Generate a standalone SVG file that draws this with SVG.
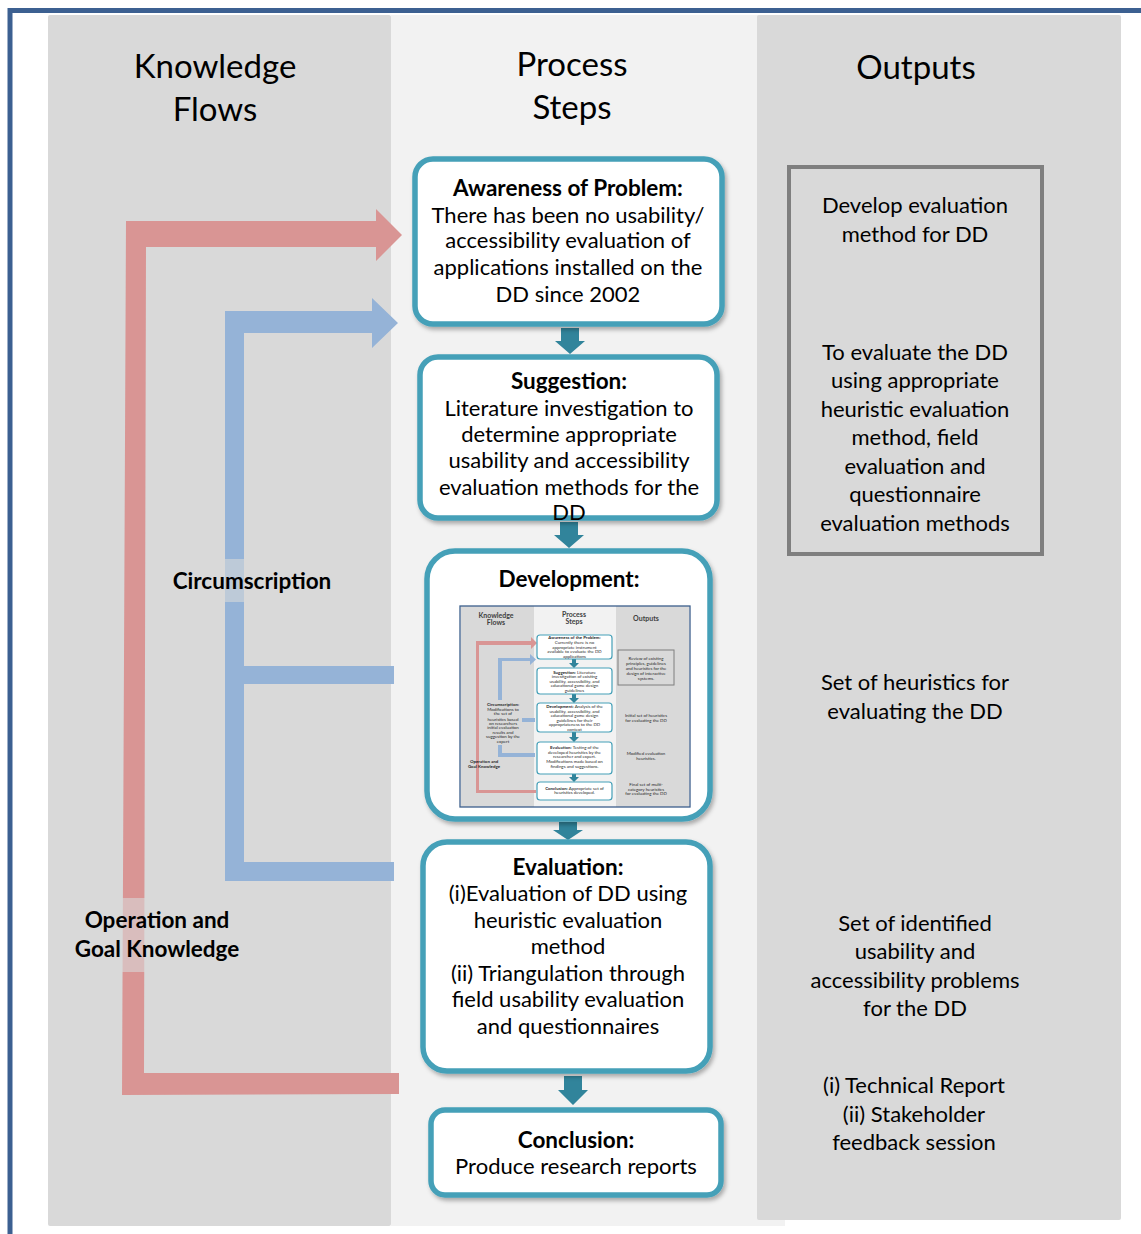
<svg xmlns="http://www.w3.org/2000/svg" width="1141" height="1234" viewBox="0 0 1141 1234">
<style>
.t{font-family:Lato,"Liberation Sans",sans-serif;fill:#000;text-anchor:middle}
.h{font-size:33px}
.b{font-size:22px}
.bb{font-size:22.5px;font-weight:bold}
.lab{font-size:22.5px;font-weight:bold}
.box{fill:#fff;stroke:#45a0b8;stroke-width:5.5}
.m{font-family:Lato,"Liberation Sans",sans-serif;fill:#262626;text-anchor:middle;font-size:4.4px}
.mb{font-weight:bold}
.mh{font-family:Lato,"Liberation Sans",sans-serif;fill:#404040;text-anchor:middle;font-size:7px;font-weight:bold}
.mbox{fill:#fff;stroke:#45a0b8;stroke-width:1.2}
.teal{fill:#31849b}
</style>
<defs>
<filter id="sh" x="-10%" y="-10%" width="125%" height="130%">
<feDropShadow dx="2" dy="3" stdDeviation="2.2" flood-color="#000" flood-opacity="0.3"/>
</filter>
</defs>
<rect width="1141" height="1234" fill="#fff"/>
<g id="columns">
<rect x="391" y="15" width="394" height="1211" fill="#f2f2f2"/>
<rect x="48" y="15" width="343" height="1211" rx="2" fill="#d9d9d9"/>
<rect x="757" y="15" width="364" height="1205" rx="2" fill="#d9d9d9"/>
</g>
<path d="M10,1234 V10.5 H1141" fill="none" stroke="#3c6091" stroke-width="5"/>
<g id="headers">
<text class="t h" x="215" y="78">Knowledge</text>
<text class="t h" x="215" y="121">Flows</text>
<text class="t h" x="572" y="76">Process</text>
<text class="t h" x="572" y="119">Steps</text>
<text class="t h" x="916" y="79">Outputs</text>
</g>
<g id="connectors">
<polygon id="operation-arrow" fill="#d99594" points="126,221 376,221 376,209 402,235 376,261 376,247 146,247 144,1073 399,1073 399,1094 122,1095"/>
<polygon id="circumscription-arrow" fill="#95b3d7" points="225,311 372,311 372,298 398,323 372,348 372,333 244,333 244,666 394,666 394,684 244,684 244,862 394,862 394,881 225,881"/>
<rect x="225" y="559" width="19" height="43" fill="#d9d9d9" opacity="0.6"/>
<rect x="122" y="898" width="23" height="74" fill="#d9d9d9" opacity="0.6"/>
<polygon class="teal" points="561,328 579,328 579,341 585,341 570,354 555,341 561,341"/>
<polygon class="teal" points="560,522 578,522 578,535 584,535 569,548 554,535 560,535"/>
<polygon class="teal" points="559,822 577,822 577,830 583,830 568,840 553,830 559,830"/>
<polygon class="teal" points="564,1076 582,1076 582,1090 588,1090 573,1105 558,1090 564,1090"/>
</g>
<g id="label-circumscription">
<text class="t lab" x="252" y="589">Circumscription</text>
</g>
<g id="label-operation">
<text class="t lab" x="157" y="928">Operation and</text>
<text class="t lab" x="157" y="957">Goal Knowledge</text>
</g>
<g id="awareness">
<rect class="box" x="415" y="159" width="307" height="165" rx="18" filter="url(#sh)"/>
<text class="t bb" x="568" y="196">Awareness of Problem:</text>
<text class="t b" x="568" y="223">There has been no usability/</text>
<text class="t b" x="568" y="248">accessibility evaluation of</text>
<text class="t b" x="568" y="275">applications installed on the</text>
<text class="t b" x="568" y="302">DD since 2002</text>
</g>
<g id="suggestion">
<rect class="box" x="420" y="357" width="297" height="161" rx="18" filter="url(#sh)"/>
<text class="t bb" x="569" y="389">Suggestion:</text>
<text class="t b" x="569" y="416">Literature investigation to</text>
<text class="t b" x="569" y="442">determine appropriate</text>
<text class="t b" x="569" y="468">usability and accessibility</text>
<text class="t b" x="569" y="495">evaluation methods for the</text>
<text class="t b" x="569" y="520">DD</text>
</g>
<g id="development">
<rect class="box" x="427" y="551" width="283" height="268" rx="28" filter="url(#sh)"/>
<text class="t bb" x="569" y="587">Development:</text>
<g id="mini">
<rect x="460" y="606" width="230" height="201" fill="#f2f2f2"/>
<rect x="461" y="606" width="73" height="201" fill="#d9d9d9"/>
<rect x="616" y="606" width="73" height="201" fill="#d9d9d9"/>
<rect x="460" y="606" width="230" height="201" fill="none" stroke="#3c5f8c" stroke-width="1.3"/>
<text class="mh" x="496" y="618">Knowledge</text>
<text class="mh" x="496" y="625">Flows</text>
<text class="mh" x="574" y="617">Process</text>
<text class="mh" x="574" y="624">Steps</text>
<text class="mh" x="646" y="621">Outputs</text>
<polygon fill="#d99594" points="476,641 531,641 531,637 537,643 531,649 531,645 479,645 479,790 536,790 536,793 476,793"/>
<polygon fill="#95b3d7" points="498,658 530,658 530,654 536,659.5 530,665 530,661 502,661 502,718 535,718 535,722 502,722 502,753 535,753 535,757 498,757"/>
<rect x="486" y="700" width="36" height="45" fill="#d9d9d9"/>
<polygon class="teal" points="572,659 576,659 576,663 579,663 574,668 569,663 572,663"/>
<polygon class="teal" points="572,694 576,694 576,698 579,698 574,703 569,698 572,698"/>
<polygon class="teal" points="572,732 576,732 576,737 579,737 574,742 569,737 572,737"/>
<polygon class="teal" points="572,774 576,774 576,777 579,777 574,782 569,777 572,777"/>
<rect class="mbox" x="537" y="635" width="75" height="24" rx="3"/>
<text class="m" x="574.5" y="639"><tspan class="mb">Awareness of the Problem:</tspan></text>
<text class="m" x="574.5" y="644">Currently there is no</text>
<text class="m" x="574.5" y="648.5">appropriate instrument</text>
<text class="m" x="574.5" y="653">available to evaluate the DD</text>
<text class="m" x="574.5" y="657.5">applications</text>
<rect class="mbox" x="537" y="668" width="75" height="26" rx="3"/>
<text class="m" x="574.5" y="673.5"><tspan class="mb">Suggestion:</tspan> Literature</text>
<text class="m" x="574.5" y="678">investigation of existing</text>
<text class="m" x="574.5" y="682.5">usability, accessibility, and</text>
<text class="m" x="574.5" y="687">educational game design</text>
<text class="m" x="574.5" y="691.5">guidelines</text>
<rect class="mbox" x="537" y="703" width="75" height="29" rx="3"/>
<text class="m" x="574.5" y="708"><tspan class="mb">Development:</tspan> Analysis of the</text>
<text class="m" x="574.5" y="712.5">usability, accessibility, and</text>
<text class="m" x="574.5" y="717">educational game design</text>
<text class="m" x="574.5" y="721.5">guidelines for their</text>
<text class="m" x="574.5" y="726">appropriateness to the DD</text>
<text class="m" x="574.5" y="730.5">context</text>
<rect class="mbox" x="537" y="742" width="75" height="32" rx="3"/>
<text class="m" x="574.5" y="749"><tspan class="mb">Evaluation:</tspan> Testing of the</text>
<text class="m" x="574.5" y="753.5">developed heuristics by the</text>
<text class="m" x="574.5" y="758">researcher and expert.</text>
<text class="m" x="574.5" y="763">Modifications made based on</text>
<text class="m" x="574.5" y="767.5">findings and suggestions.</text>
<rect class="mbox" x="537" y="782" width="75" height="18" rx="3"/>
<text class="m" x="574.5" y="789.5"><tspan class="mb">Conclusion:</tspan>  Appropriate set of</text>
<text class="m" x="574.5" y="794">heuristics developed.</text>
<rect x="618" y="650" width="56" height="35" fill="none" stroke="#7f7f7f" stroke-width="1"/>
<text class="m" x="646" y="660">Review of existing</text>
<text class="m" x="646" y="665">principles, guidelines</text>
<text class="m" x="646" y="670">and heuristics for the</text>
<text class="m" x="646" y="675">design of interactive</text>
<text class="m" x="646" y="680">systems.</text>
<text class="m" x="646" y="717">Initial set of heuristics</text>
<text class="m" x="646" y="721.5">for evaluating the DD</text>
<text class="m" x="646" y="755">Modified evaluation</text>
<text class="m" x="646" y="759.5">heuristics.</text>
<text class="m" x="646" y="786">Final set of multi-</text>
<text class="m" x="646" y="790.5">category heuristics</text>
<text class="m" x="646" y="795">for evaluating the DD</text>
<text class="m mb" x="503" y="706">Circumscription:</text>
<text class="m" x="503" y="710.5">Modifications to</text>
<text class="m" x="503" y="715">the set of</text>
<text class="m" x="503" y="720.5">heuristics based</text>
<text class="m" x="503" y="724.5">on researchers</text>
<text class="m" x="503" y="729">initial evaluation</text>
<text class="m" x="503" y="733.5">results and</text>
<text class="m" x="503" y="738">suggestion by the</text>
<text class="m" x="503" y="742.5">expert</text>
<text class="m mb" x="484" y="763">Operation and</text>
<text class="m mb" x="484" y="767.5">Goal Knowledge</text>
</g>
</g>
<g id="evaluation">
<rect class="box" x="423" y="842" width="287" height="229" rx="24" filter="url(#sh)"/>
<text class="t bb" x="568" y="875">Evaluation:</text>
<text class="t b" x="568" y="901">(i)Evaluation of DD using</text>
<text class="t b" x="568" y="928">heuristic evaluation</text>
<text class="t b" x="568" y="954">method</text>
<text class="t b" x="568" y="981">(ii) Triangulation through</text>
<text class="t b" x="568" y="1007">field usability evaluation</text>
<text class="t b" x="568" y="1034">and questionnaires</text>
</g>
<g id="conclusion">
<rect class="box" x="431" y="1110" width="290" height="85" rx="14" filter="url(#sh)"/>
<text class="t bb" x="576" y="1148">Conclusion:</text>
<text class="t b" x="576" y="1174">Produce research reports</text>
</g>
<g id="output-box">
<rect x="789" y="167" width="253" height="387" fill="none" stroke="#7f7f7f" stroke-width="4"/>
<text class="t b" x="915" y="213">Develop evaluation</text>
<text class="t b" x="915" y="242">method for DD</text>
<text class="t b" x="915" y="360">To evaluate the DD</text>
<text class="t b" x="915" y="388">using appropriate</text>
<text class="t b" x="915" y="417">heuristic evaluation</text>
<text class="t b" x="915" y="445">method, field</text>
<text class="t b" x="915" y="474">evaluation and</text>
<text class="t b" x="915" y="502">questionnaire</text>
<text class="t b" x="915" y="531">evaluation methods</text>
</g>
<g id="output-heuristics">
<text class="t b" x="915" y="690">Set of heuristics for</text>
<text class="t b" x="915" y="719">evaluating the DD</text>
</g>
<g id="output-problems">
<text class="t b" x="915" y="931">Set of identified</text>
<text class="t b" x="915" y="959">usability and</text>
<text class="t b" x="915" y="988">accessibility problems</text>
<text class="t b" x="915" y="1016">for the DD</text>
</g>
<g id="output-reports">
<text class="t b" x="914" y="1093">(i) Technical Report</text>
<text class="t b" x="914" y="1122">(ii) Stakeholder</text>
<text class="t b" x="914" y="1150">feedback session</text>
</g>
</svg>
